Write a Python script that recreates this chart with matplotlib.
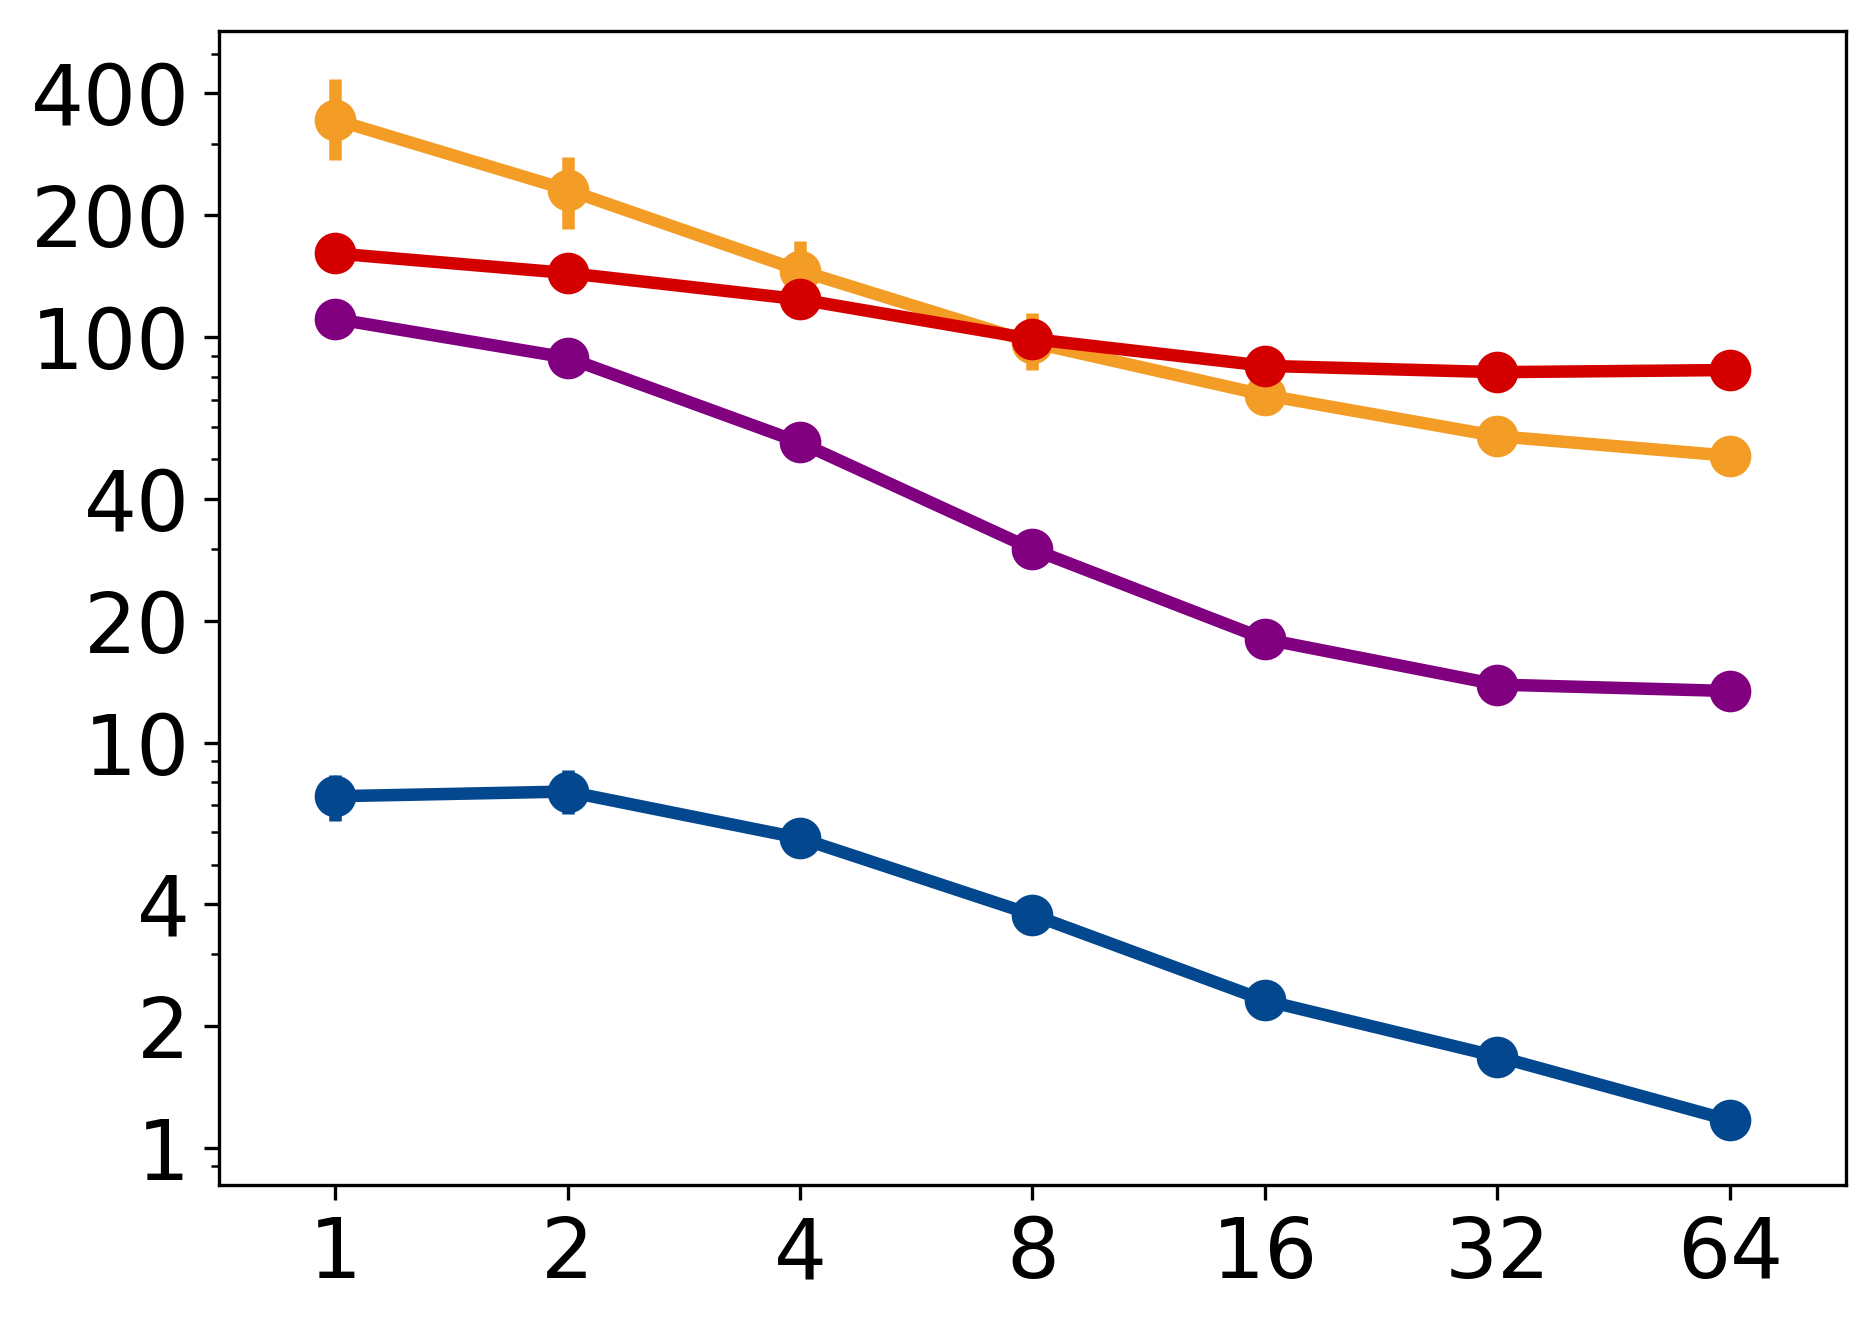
import numpy as np
import matplotlib
matplotlib.use('Agg')
import matplotlib.pyplot as plt

# x values (threads / batch)
x_labels = ['1', '2', '4', '8', '16', '32', '64']

orange = [344, 231, 146, 97, 72, 57, 51]
orange_lo = [273, 185, 125, 83, 66, 54, 48]
orange_hi = [434, 279, 173, 115, 79, 60, 54]

red = [161, 144, 124, 99, 85, 82, 83]
red_lo = [158, 138, 119, 96, 83, 80, 81]
red_hi = [164, 150, 129, 102, 87, 84, 85]

purple = [111, 89, 55, 30, 18, 13.9, 13.4]

blue = [7.37, 7.57, 5.81, 3.76, 2.31, 1.68, 1.17]
blue_lo = [6.4, 6.65, 5.35, 3.6, 2.22, 1.6, 1.13]
blue_hi = [8.3, 8.55, 6.3, 3.92, 2.4, 1.76, 1.21]

yticks = [1, 2, 4, 10, 20, 40, 100, 200, 400]

plt.rcParams['font.size'] = 20
fig = plt.figure(figsize=(6.25, 1325 / 300))
ax = fig.add_axes([0.1168, 0.1057, 0.8677, 0.871])

pos = np.arange(len(x_labels))


def draw(vals, lo, hi, color):
    vals = np.array(vals)
    if lo is None:
        ax.plot(pos, vals, '-o', color=color, lw=3, ms=9)
    else:
        err = [vals - np.array(lo), np.array(hi) - vals]
        ax.errorbar(pos, vals, yerr=err, fmt='-o', color=color, lw=3,
                    ms=9, elinewidth=3, capsize=0)


draw(orange, orange_lo, orange_hi, '#f39c26')
draw(red, red_lo, red_hi, '#d40000')
draw(purple, None, None, '#800080')
draw(blue, blue_lo, blue_hi, '#03478f')

ax.set_yscale('log')
ax.set_ylim(0.81, 570)
ax.set_yticks(yticks)
ax.set_yticklabels([str(v) for v in yticks])
ax.set_xlim(-0.5, 6.5)
ax.set_xticks(pos)
ax.set_xticklabels(x_labels)

fig.savefig('out.png', dpi=300)
